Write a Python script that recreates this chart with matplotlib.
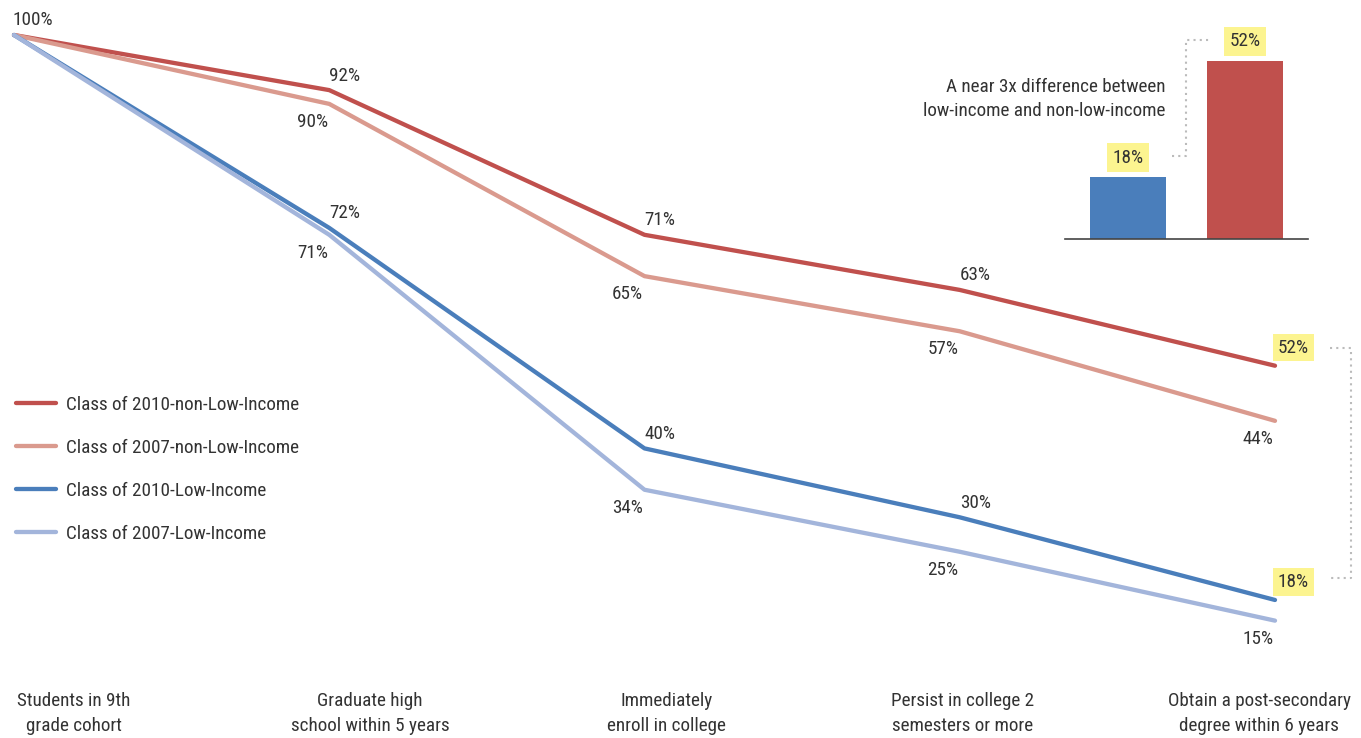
import matplotlib
matplotlib.use("Agg")
import matplotlib.pyplot as plt

plt.rcParams['font.family'] = ['Roboto Condensed', 'Archivo Narrow', 'Liberation Sans Narrow', 'DejaVu Sans']

stages = ["Students in 9th\ngrade cohort", "Graduate high\nschool within 5 years",
          "Immediately\nenroll in college", "Persist in college 2\nsemesters or more",
          "Obtain a post-secondary\ndegree within 6 years"]
series_names = ["Class of 2010-non-Low-Income", "Class of 2007-non-Low-Income",
                "Class of 2010-Low-Income", "Class of 2007-Low-Income"]
nonlow_2010 = [100, 92, 71, 63, 52]
nonlow_2007 = [100, 90, 65, 57, 44]
low_2010 = [100, 72, 40, 30, 18]
low_2007 = [100, 71, 34, 25, 15]
inset_values = [18, 52]

colors = ["#C0504D", "#DA9A8E", "#4A7EBB", "#A3B5DB"]
label_above = [True, False, True, False]
text_col = "#333333"
yellow = "#FCF490"
fs = 13.8

fig = plt.figure(figsize=(13.61, 7.38), dpi=100)
ax = fig.add_axes([0, 0, 1, 1])
ax.set_xlim(-14 / 315.25, 4 + 86 / 315.25)
ax.set_ylim(-14 / 6.89, 100 + 35 / 6.89)
ax.axis("off")

x = list(range(len(stages)))
all_series = [nonlow_2010, nonlow_2007, low_2010, low_2007]
for vals, name, c, above in zip(all_series, series_names, colors, label_above):
    ax.plot(x, vals, color=c, lw=3.1, solid_capstyle="round", solid_joinstyle="round", label=name)
    for i in range(1, len(vals)):
        if i == len(vals) - 1 and above:
            ax.annotate(f"{vals[i]}%", (x[i], vals[i]), xytext=(2, 13), textcoords="offset points",
                        ha="left", va="center", fontsize=fs, color=text_col,
                        bbox=dict(boxstyle="square,pad=0.25", fc=yellow, ec="none"))
        elif above:
            ax.annotate(f"{vals[i]}%", (x[i], vals[i]), xytext=(0, 10.5), textcoords="offset points",
                        ha="left", va="center", fontsize=fs, color=text_col)
        else:
            ax.annotate(f"{vals[i]}%", (x[i], vals[i]), xytext=(-1, -13), textcoords="offset points",
                        ha="right", va="center", fontsize=fs, color=text_col)
ax.annotate("100%", (0, 100), xytext=(-1, 11), textcoords="offset points",
            ha="left", va="center", fontsize=fs, color=text_col)

# dotted bracket joining the two highlighted end values
ax.plot([4.176, 4.241, 4.241, 4.176], [nonlow_2010[-1] + 2.6, nonlow_2010[-1] + 2.6,
                                       low_2010[-1] + 3.2, low_2010[-1] + 3.2],
        color="#BBBBBB", lw=1.5, ls=(0, (1, 2)))

# category labels
for i, s in enumerate(stages):
    ax.text(0.19 + 0.94 * i, 4.6, s, ha="center", va="top", fontsize=fs, color=text_col,
            linespacing=1.5)

leg = ax.legend(loc="upper left", bbox_to_anchor=(-0.001, 0.487), frameon=False, fontsize=fs,
                handlelength=2.1, handletextpad=0.5, labelspacing=1.3, labelcolor=text_col)

# inset bar chart
ins = fig.add_axes([1065 / 1361, 1 - 239 / 738, 243 / 1361, 219 / 738])
ins.bar([0, 1], inset_values, width=0.65, color=["#4A7EBB", "#C0504D"])
ins.set_xlim(-0.538, 1.538)
ins.set_ylim(0, 219 / 3.42)
for sp in ["top", "right", "left"]:
    ins.spines[sp].set_visible(False)
ins.spines["bottom"].set_color("#444444")
ins.spines["bottom"].set_linewidth(1.2)
ins.set_xticks([])
ins.set_yticks([])
ins.patch.set_alpha(0)
for i, v in enumerate(inset_values):
    ins.text(i, v + 5.8, f"{v}%", ha="center", va="center", fontsize=fs, color=text_col,
             bbox=dict(boxstyle="square,pad=0.3", fc=yellow, ec="none"))
ins.plot([0.376, 0.496, 0.496, 0.70], [24.3, 24.3, 58.2, 58.2], color="#BBBBBB", lw=1.5,
         ls=(0, (1, 2)), clip_on=False)

fig.text(1165 / 1361, 1 - 99 / 738, "A near 3x difference between\nlow-income and non-low-income",
         ha="right", va="center", fontsize=fs, color=text_col, linespacing=1.5)

fig.savefig("out.png", dpi=100)
